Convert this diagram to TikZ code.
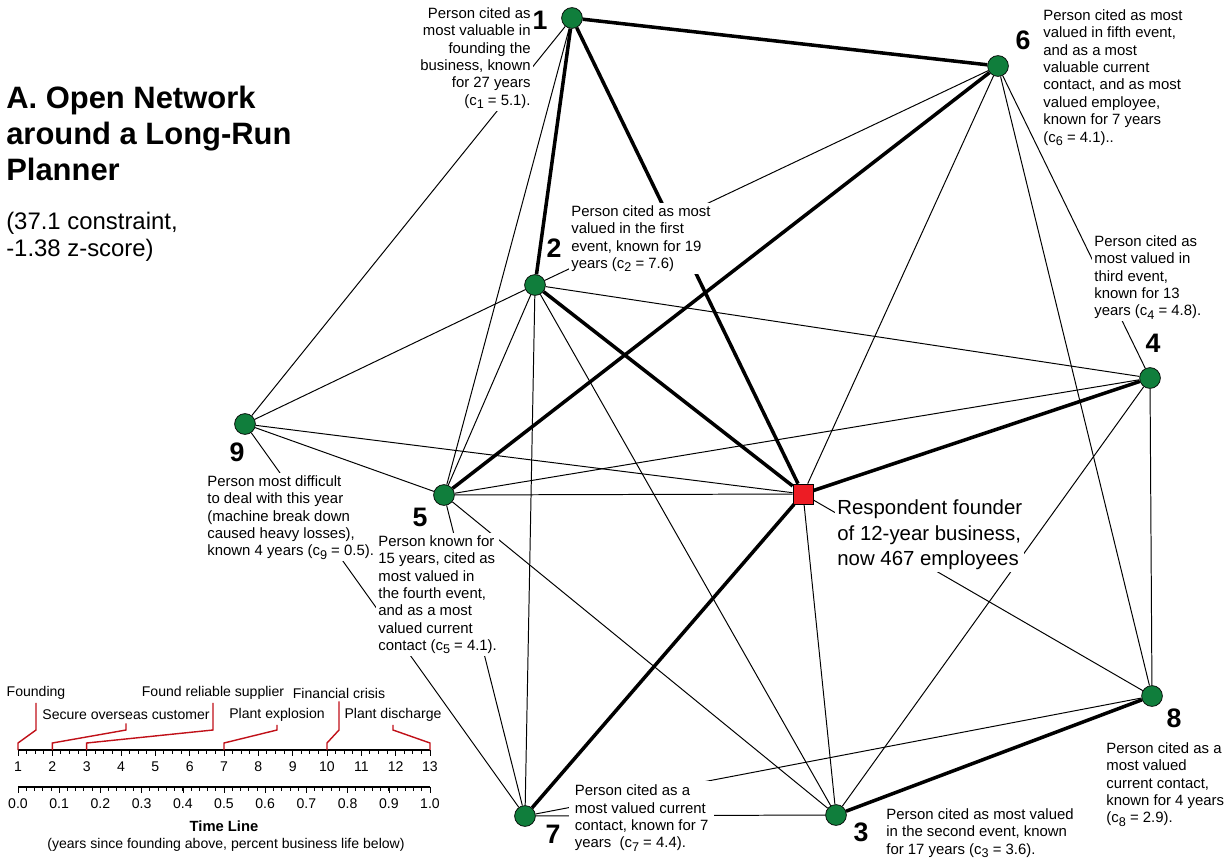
\documentclass[tikz,border=0pt]{standalone}
\usepackage{fontspec}
\setmainfont{Liberation Sans}
\usetikzlibrary{calc}
\definecolor{contactgreen}{RGB}{16,126,60}
\definecolor{egored}{RGB}{237,28,36}
\definecolor{eventred}{RGB}{192,16,24}
\newcommand{\csub}[1]{\raisebox{-0.4ex}{\fontsize{9}{9}\selectfont #1}}

\begin{document}
\begin{tikzpicture}[x=0.025cm,y=-0.025cm,
contact/.style={circle,draw,fill=contactgreen,inner sep=0pt,minimum size=0.52cm,line width=0.5pt},
ego/.style={rectangle,draw,fill=egored,inner sep=0pt,minimum size=0.5cm,line width=0.5pt},
tie/.style={line width=0.7pt},
strongtie/.style={line width=2.5pt},
num/.style={font=\fontsize{19}{19}\selectfont\bfseries,inner sep=0pt},
note/.style={fill=white,inner sep=1.5pt,font=\fontsize{10.6}{12.4}\selectfont},
eventlabel/.style={inner sep=0pt,font=\fontsize{10}{12}\selectfont},
eventline/.style={draw=eventred,line width=1pt}]

\useasboundingbox (0,0) rectangle (1230,861);

% title
\draw (6,86) node[anchor=north west,inner sep=0pt,align=left,font=\fontsize{22}{25.6}\selectfont\bfseries] (title) {A. Open Network\\around a Long-Run\\Planner};
\draw (6,212) node[anchor=north west,inner sep=0pt,align=left,font=\fontsize{17}{19.2}\selectfont] (score) {(37.1 constraint,\\-1.38 z-score)};

% people
\draw (572,18) node[contact] (p1) {};
\draw (535,285) node[contact] (p2) {};
\draw (836,815) node[contact] (p3) {};
\draw (1150,378) node[contact] (p4) {};
\draw (444,495) node[contact] (p5) {};
\draw (998,66) node[contact] (p6) {};
\draw (525,816) node[contact] (p7) {};
\draw (1152,696) node[contact] (p8) {};
\draw (245,424) node[contact] (p9) {};
\draw (803,494) node[ego] (ego) {};

% ties
\draw[strongtie] (p1) -- (p6);
\draw[strongtie] (p1) -- (p2);
\draw[strongtie] (p1) -- (ego);
\draw[strongtie] (p2) -- (ego);
\draw[strongtie] (p6) -- (p5);
\draw[strongtie] (p4) -- (ego);
\draw[strongtie] (p7) -- (ego);
\draw[strongtie] (p3) -- (p8);
\draw[tie] (p1) -- (p5);
\draw[tie] (p1) -- (p9);
\draw[tie] (p2) -- (p6);
\draw[tie] (p2) -- (p4);
\draw[tie] (p2) -- (p3);
\draw[tie] (p2) -- (p7);
\draw[tie] (p2) -- (p5);
\draw[tie] (p2) -- (p9);
\draw[tie] (p3) -- (p7);
\draw[tie] (p3) -- (p5);
\draw[tie] (p3) -- (ego);
\draw[tie] (p3) -- (p4);
\draw[tie] (p4) -- (p6);
\draw[tie] (p4) -- (p5);
\draw[tie] (p4) -- (p8);
\draw[tie] (p5) -- (ego);
\draw[tie] (p5) -- (p9);
\draw[tie] (p5) -- (p7);
\draw[tie] (p6) -- (ego);
\draw[tie] (p6) -- (p8);
\draw[tie] (p7) -- (p9);
\draw[tie] (p7) -- (p8);
\draw[tie] (p8) -- (ego);
\draw[tie] (p9) -- (ego);

% numbers
\draw (540,20) node[num] (n1) {1};
\draw (554,248) node[num] (n2) {2};
\draw (861,832) node[num] (n3) {3};
\draw (1153,343) node[num] (n4) {4};
\draw (420,517) node[num] (n5) {5};
\draw (1023,40) node[num] (n6) {6};
\draw (553,834) node[num] (n7) {7};
\draw (1174,718) node[num] (n8) {8};
\draw (237,452) node[num] (n9) {9};

% notes
\draw (533,5) node[note,anchor=north east,align=right] (c1) {Person cited as\\most valuable in\\founding the\\business, known\\for 27 years\\(c\csub{1} = 5.1).};
\draw (569,203) node[note,anchor=north west,align=left] (c2) {Person cited as most\\valued in the first\\event, known for 19\\years (c\csub{2} = 7.6)};
\draw (884,806) node[note,anchor=north west,align=left] (c3) {Person cited as most valued\\in the second event, known\\for 17 years (c\csub{3} = 3.6).};
\draw (1092,233) node[note,anchor=north west,align=left] (c4) {Person cited as\\most valued in\\third event,\\known for 13\\years (c\csub{4} = 4.8).};
\draw (376,533) node[note,anchor=north west,align=left] (c5) {Person known for\\15 years, cited as\\most valued in\\the fourth event,\\and as a most\\valued current\\contact (c\csub{5} = 4.1).};
\draw (1041,7) node[note,anchor=north west,align=left] (c6) {Person cited as most\\valued in fifth event,\\and as a most\\valuable current\\contact, and as most\\valued employee,\\known for 7 years\\(c\csub{6} = 4.1)..};
\draw (569,781) node[note,anchor=north west,align=left,inner xsep=4pt,inner ysep=2.5pt] (c7) {Person cited as a\\most valued current\\contact, known for 7\\years~ (c\csub{7} = 4.4).};
\draw (1104,740) node[note,anchor=north west,align=left] (c8) {Person cited as a\\most valued\\current contact,\\known for 4 years\\(c\csub{8} = 2.9).};
\draw (205,473) node[note,anchor=north west,align=left] (c9) {Person most difficult\\to deal with this year\\(machine break down\\caused heavy losses),\\known 4 years (c\csub{9} = 0.5).};
\draw (835,497) node[note,anchor=north west,align=left,font=\fontsize{14.5}{18.4}\selectfont] (cego) {Respondent founder\\of 12-year business,\\now 467 employees};

% time line
\draw[line width=0.8pt] (18,750) coordinate (y1) -- (430,750) coordinate (y13);
\foreach \i in {0,...,48}
  \draw[line width=0.6pt] ({18+\i*8.5833},750) -- ++(0,4);
\foreach \i in {1,...,13}
  \draw ({18+(\i-1)*34.333},750) -- ++(0,6) node[eventlabel,below=4pt] (yr\i) {\i};
\draw[line width=0.8pt] (18,787) -- (430,787);
\foreach \i in {0,...,50}
  \draw[line width=0.6pt] ({18+\i*8.24},787) -- ++(0,4);
\foreach \f [count=\k from 0] in {0.0,0.1,0.2,0.3,0.4,0.5,0.6,0.7,0.8,0.9,1.0}
  \draw ({18+\k*41.2},787) -- ++(0,6) node[eventlabel,below=4pt] (pc\k) {\f};
\draw (224,826) node[eventlabel,font=\fontsize{10.5}{12}\selectfont\bfseries] (tl) {Time Line};
\draw (226,845) node[eventlabel] (tlsub) {(years since founding above, percent business life below)};

% events
\coordinate (e1) at (18,750);
\coordinate (e2) at (52.333,750);
\coordinate (e3) at (86.667,750);
\coordinate (e7) at (224,750);
\coordinate (e10) at (327,750);
\coordinate (e13) at (430,750);
\draw (36,693) node[eventlabel] (founding) {Founding};
\draw (126,715) node[eventlabel] (overseas) {Secure overseas customer};
\draw (213,693) node[eventlabel] (supplier) {Found reliable supplier};
\draw (277,715) node[eventlabel] (explosion) {Plant explosion};
\draw (339,693) node[eventlabel] (crisis) {Financial crisis};
\draw (393,715) node[eventlabel] (discharge) {Plant discharge};
\draw[eventline] (founding.south) ++(0,3) -- (36,730) -- ($(e1)+(0,-7)$) -- (e1);
\draw[eventline] (overseas.south) ++(0,3) -- (126,730) -- ($(e2)+(0,-7)$) -- (e2);
\draw[eventline] (supplier.south) ++(0,3) -- (213,730) -- ($(e3)+(0,-7)$) -- (e3);
\draw[eventline] (explosion.south) ++(0,3) -- (277,730) -- ($(e7)+(0,-7)$) -- (e7);
\draw[eventline] (crisis.south) ++(0,3) -- (339,730) -- ($(e10)+(0,-7)$) -- (e10);
\draw[eventline] (discharge.south) ++(0,3) -- (393,730) -- ($(e13)+(0,-7)$) -- (e13);
\end{tikzpicture}
\end{document}
